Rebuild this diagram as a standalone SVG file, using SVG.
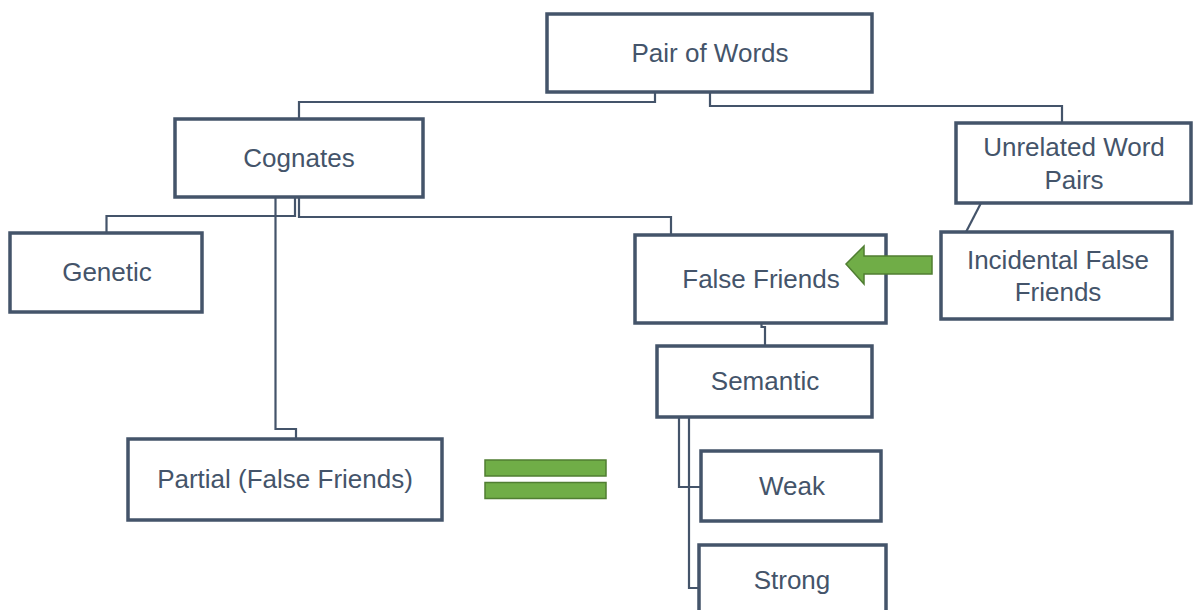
<svg xmlns="http://www.w3.org/2000/svg" width="1200" height="610" viewBox="0 0 1200 610">
<style>
.box{fill:#ffffff;stroke:#44546A;stroke-width:3.5}
.lbl{font-family:"Liberation Sans",Arial,sans-serif;font-size:26px;fill:#44546A;text-anchor:middle}
.conn{fill:none;stroke:#44546A;stroke-width:2.2}
.green{fill:#70AD47;stroke:#507E32;stroke-width:1.5}
</style>
<rect width="1200" height="610" fill="#ffffff"/>
<g id="connectors">
<polyline class="conn" points="655,92 655,102 299,102 299,118"/>
<polyline class="conn" points="710,92 710,106 1062,106 1062,123"/>
<polyline class="conn" points="295,197 295,216 106.5,216 106.5,233"/>
<polyline class="conn" points="299,197 299,217 671,217 671,235"/>
<polyline class="conn" points="275.5,197 275.5,429 296,429 296,439"/>
<line class="conn" x1="981" y1="203" x2="966" y2="232"/>
<polyline class="conn" points="761.5,323 761.5,327 765,327 765,346"/>
<polyline class="conn" points="679,417 679,487 701,487"/>
<polyline class="conn" points="689,417 689,588 699,588"/>
</g>
<g id="pair-of-words">
<rect class="box" x="547" y="14" width="325" height="78"/>
<text class="lbl" x="710" y="62">Pair of Words</text>
</g>
<g id="cognates">
<rect class="box" x="175" y="119" width="248" height="78"/>
<text class="lbl" x="299" y="167">Cognates</text>
</g>
<g id="unrelated">
<rect class="box" x="956" y="123" width="235" height="80"/>
<text class="lbl" x="1074" y="156">Unrelated Word</text>
<text class="lbl" x="1074" y="189">Pairs</text>
</g>
<g id="genetic">
<rect class="box" x="10" y="233" width="192" height="79"/>
<text class="lbl" x="107" y="281">Genetic</text>
</g>
<g id="false-friends">
<rect class="box" x="635" y="235" width="251" height="88"/>
<text class="lbl" x="761" y="288">False Friends</text>
</g>
<g id="incidental">
<rect class="box" x="941" y="232" width="231" height="87"/>
<text class="lbl" x="1058" y="269">Incidental False</text>
<text class="lbl" x="1058" y="301">Friends</text>
</g>
<g id="semantic">
<rect class="box" x="657" y="346" width="215" height="71"/>
<text class="lbl" x="765" y="390">Semantic</text>
</g>
<g id="weak">
<rect class="box" x="701" y="451" width="180" height="70"/>
<text class="lbl" x="792" y="495">Weak</text>
</g>
<g id="strong">
<rect class="box" x="699" y="545" width="187" height="70"/>
<text class="lbl" x="792" y="589">Strong</text>
</g>
<g id="partial">
<rect class="box" x="128" y="439" width="314" height="81"/>
<text class="lbl" x="285" y="488">Partial (False Friends)</text>
</g>
<g id="arrow">
<polygon class="green" points="846,264 864,246 864,256 932,256 932,274 864,274 864,284"/>
</g>
<g id="equals">
<rect class="green" x="485" y="460" width="121" height="16"/>
<rect class="green" x="485" y="482.5" width="121" height="16"/>
</g>
</svg>
